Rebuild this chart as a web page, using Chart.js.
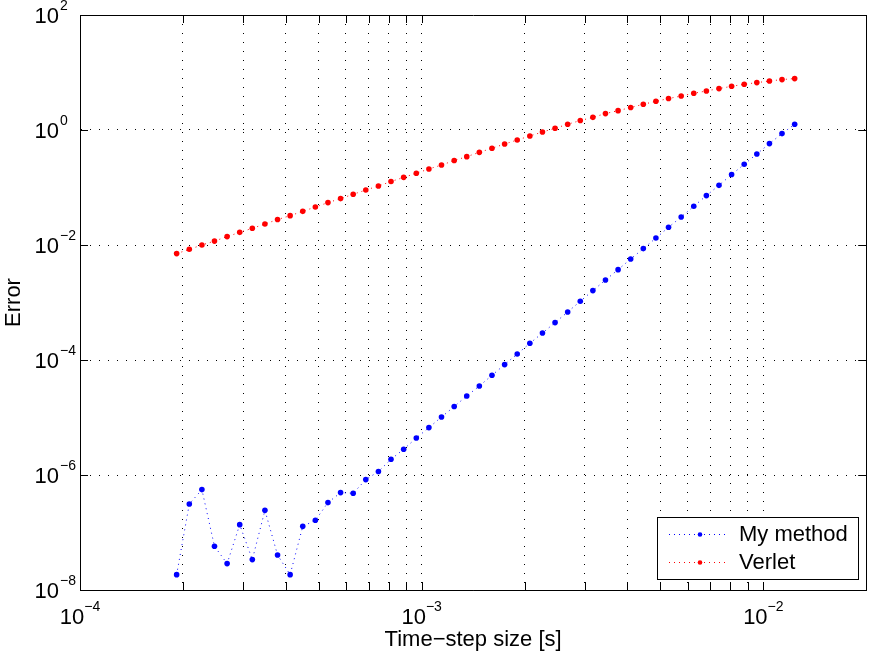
<!DOCTYPE html>
<html>
<head>
<meta charset="utf-8">
<script src="https://cdn.jsdelivr.net/npm/chart.js@4.4.1/dist/chart.umd.min.js"></script>
<style>
  html, body { margin: 0; padding: 0; background: #fff; }
  #wrap { width: 869px; height: 655px; }
</style>
</head>
<body>
<div id="wrap"><canvas id="errChart" width="869" height="655"></canvas></div>
<script>
// time-step sizes [s]
const stepSizes = [
  1.918e-4, 2.089e-4, 2.274e-4, 2.475e-4, 2.695e-4, 2.934e-4, 3.194e-4, 3.477e-4, 3.786e-4, 4.121e-4,
  4.487e-4, 4.885e-4, 5.318e-4, 5.790e-4, 6.303e-4, 6.862e-4, 7.471e-4, 8.133e-4, 8.857e-4, 9.645e-4,
  1.050e-3, 1.143e-3, 1.245e-3, 1.355e-3, 1.475e-3, 1.606e-3, 1.749e-3, 1.904e-3, 2.073e-3, 2.257e-3,
  2.457e-3, 2.675e-3, 2.912e-3, 3.170e-3, 3.451e-3, 3.757e-3, 4.090e-3, 4.453e-3, 4.848e-3, 5.278e-3,
  5.748e-3, 6.257e-3, 6.812e-3, 7.416e-3, 8.074e-3, 8.790e-3, 9.570e-3, 1.042e-2, 1.134e-2, 1.235e-2
];

// error of my method
const myMethodErr = [
  1.85e-8, 3.13e-7, 5.57e-7, 5.75e-8, 2.88e-8, 1.37e-7, 3.38e-8, 2.43e-7, 4.06e-8, 1.85e-8,
  1.28e-7, 1.63e-7, 3.31e-7, 4.94e-7, 4.81e-7, 8.32e-7, 1.15e-6, 1.88e-6, 2.80e-6, 4.40e-6,
  6.67e-6, 1.02e-5, 1.55e-5, 2.37e-5, 3.53e-5, 5.42e-5, 8.32e-5, 1.27e-4, 1.95e-4, 2.95e-4,
  4.47e-4, 6.84e-4, 1.05e-3, 1.61e-3, 2.46e-3, 3.73e-3, 5.71e-3, 8.65e-3, 1.32e-2, 2.03e-2,
  3.07e-2, 4.71e-2, 7.23e-2, 0.109, 0.168, 0.253, 0.383, 0.580, 0.865, 1.26
];

// error of Verlet
const verletErr = [
  7.08e-3, 8.41e-3, 1.00e-2, 1.17e-2, 1.40e-2, 1.66e-2, 1.95e-2, 2.32e-2, 2.77e-2, 3.24e-2,
  3.85e-2, 4.58e-2, 5.46e-2, 6.41e-2, 7.62e-2, 9.05e-2, 0.106, 0.127, 0.150, 0.177,
  0.210, 0.246, 0.294, 0.344, 0.409, 0.481, 0.571, 0.670, 0.787, 0.923,
  1.07, 1.26, 1.46, 1.66, 1.93, 2.17, 2.46, 2.80, 3.16, 3.52,
  3.90, 4.35, 4.77, 5.25, 5.75, 6.24, 6.67, 7.11, 7.53, 7.83
];

const xTickValues = [
  1e-4, 2e-4, 3e-4, 4e-4, 5e-4, 6e-4, 7e-4, 8e-4, 9e-4,
  1e-3, 2e-3, 3e-3, 4e-3, 5e-3, 6e-3, 7e-3, 8e-3, 9e-3,
  1e-2, 2e-2
];
const yTickValues = [1e-8, 1e-6, 1e-4, 1e-2, 1, 1e2];

const seriesNames = ['My method', 'Verlet'];
const seriesColors = ['#0000ff', '#ff0000'];

const FONT = '"Liberation Sans", Arial, Helvetica, sans-serif';

function toPoints(xs, ys) {
  return xs.map((x, i) => ({ x: x, y: ys[i] }));
}

function expText(v) {
  const e = Math.round(Math.log10(v));
  if (Math.abs(Math.log10(v) - e) > 1e-6) return null;
  return e < 0 ? '\u2212' + Math.abs(e) : String(e);
}

// box, inward ticks, power-of-ten labels and legend
const frame = {
  id: 'frame',
  afterDraw(chart) {
    const ctx = chart.ctx;
    const a = chart.chartArea;
    const xs = chart.scales.x;
    const ys = chart.scales.y;
    const tl = 8;

    ctx.save();
    ctx.strokeStyle = '#000';
    ctx.lineWidth = 1;
    ctx.beginPath();
    ctx.rect(Math.round(a.left) + 0.5, Math.round(a.top) + 0.5,
      Math.round(a.right - a.left), Math.round(a.bottom - a.top));
    ctx.stroke();

    ctx.beginPath();
    xs.ticks.forEach(t => {
      const px = Math.round(xs.getPixelForValue(t.value)) + 0.5;
      ctx.moveTo(px, a.bottom); ctx.lineTo(px, a.bottom - tl);
      ctx.moveTo(px, a.top); ctx.lineTo(px, a.top + tl);
    });
    ys.ticks.forEach(t => {
      const py = Math.round(ys.getPixelForValue(t.value)) + 0.5;
      ctx.moveTo(a.left, py); ctx.lineTo(a.left + tl, py);
      ctx.moveTo(a.right, py); ctx.lineTo(a.right - tl, py);
    });
    ctx.stroke();

    ctx.fillStyle = '#000';
    ctx.textBaseline = 'alphabetic';
    // x labels
    xs.ticks.forEach(t => {
      const ex = expText(t.value);
      if (ex === null) return;
      const px = xs.getPixelForValue(t.value);
      ctx.font = '22px ' + FONT;
      const wb = ctx.measureText('10').width;
      ctx.font = '14px ' + FONT;
      const we = ctx.measureText(ex).width;
      const start = px - (wb + we) / 2;
      ctx.textAlign = 'left';
      ctx.font = '22px ' + FONT;
      ctx.fillText('10', start, a.bottom + 34);
      ctx.font = '14px ' + FONT;
      ctx.fillText(ex, start + wb, a.bottom + 21);
    });
    // y labels
    ys.ticks.forEach(t => {
      const ex = expText(t.value);
      if (ex === null) return;
      const py = ys.getPixelForValue(t.value);
      ctx.font = '22px ' + FONT;
      ctx.textAlign = 'right';
      ctx.fillText('10', a.left - 21, py + 8);
      ctx.font = '14px ' + FONT;
      ctx.textAlign = 'left';
      ctx.fillText(ex, a.left - 20, py - 5);
    });

    // legend
    const lx = 657, ly = 517, lw = 201, lh = 62;
    ctx.fillStyle = '#fff';
    ctx.fillRect(lx, ly, lw, lh);
    ctx.strokeStyle = '#000';
    ctx.strokeRect(lx + 0.5, ly + 0.5, lw, lh);
    chart.data.datasets.forEach((ds, i) => {
      const cy = ly + 17 + i * 28;
      ctx.strokeStyle = ds.borderColor;
      ctx.setLineDash([1, 4]);
      ctx.beginPath();
      ctx.moveTo(lx + 12, cy + 0.5);
      ctx.lineTo(lx + 70, cy + 0.5);
      ctx.stroke();
      ctx.setLineDash([]);
      ctx.fillStyle = ds.borderColor;
      ctx.beginPath();
      ctx.arc(lx + 43, cy + 0.5, 2.3, 0, Math.PI * 2);
      ctx.fill();
      ctx.fillStyle = '#000';
      ctx.font = '22px ' + FONT;
      ctx.textAlign = 'left';
      ctx.textBaseline = 'middle';
      ctx.fillText(ds.label, lx + 82, cy + 1);
    });
    ctx.restore();
  }
};

function makeSet(i, ys) {
  return {
    label: seriesNames[i],
    data: toPoints(stepSizes, ys),
    showLine: true,
    borderColor: seriesColors[i],
    backgroundColor: seriesColors[i],
    borderWidth: 1,
    borderDash: [1, 4],
    pointRadius: 2.8,
    pointHoverRadius: 2.8,
    pointBorderWidth: 0,
    pointBackgroundColor: seriesColors[i]
  };
}

const ctx = document.getElementById('errChart').getContext('2d');
const errChart = new Chart(ctx, {
  type: 'scatter',
  data: { datasets: [makeSet(0, myMethodErr), makeSet(1, verletErr)] },
  options: {
    responsive: false,
    animation: false,
    layout: { padding: { top: 15, right: 1, left: 0, bottom: 0 } },
    plugins: { legend: { display: false }, tooltip: { enabled: false } },
    scales: {
      x: {
        type: 'logarithmic',
        min: 1e-4,
        max: 2e-2,
        afterBuildTicks: s => { s.ticks = xTickValues.map(v => ({ value: v })); },
        afterFit: s => { s.height = 65; },
        ticks: { display: false },
        grid: { color: '#000', lineWidth: 1, drawTicks: false },
        border: { display: true, color: '#000', width: 1, dash: [1, 8] },
        title: {
          display: true,
          text: 'Time\u2212step size [s]',
          color: '#000',
          font: { family: FONT, size: 22 },
          padding: { top: 0, bottom: 2 }
        }
      },
      y: {
        type: 'logarithmic',
        min: 1e-8,
        max: 1e2,
        afterBuildTicks: s => { s.ticks = yTickValues.map(v => ({ value: v })); },
        afterFit: s => { s.width = 80; },
        ticks: { display: false },
        grid: { color: '#000', lineWidth: 1, drawTicks: false },
        border: { display: true, color: '#000', width: 1, dash: [1, 8] },
        title: {
          display: true,
          text: 'Error',
          color: '#000',
          font: { family: FONT, size: 22 },
          padding: { top: 1, bottom: 0 }
        }
      }
    }
  },
  plugins: [frame]
});
</script>
</body>
</html>
